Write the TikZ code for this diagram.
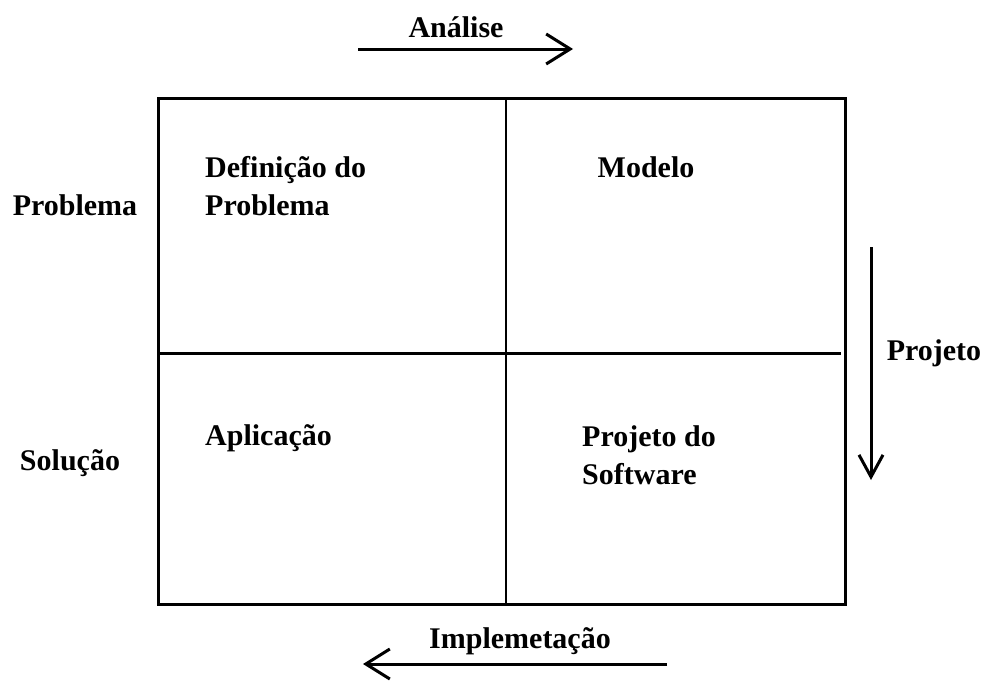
\documentclass[tikz,border=0pt]{standalone}
\usepackage{fontspec}
\setmainfont{Liberation Serif}
\usetikzlibrary{arrows.meta}
\begin{document}
\begin{tikzpicture}[x=1pt,y=-1pt,
  lbl/.style={inner sep=0pt, font=\bfseries\fontsize{30}{38}\selectfont},
  box/.style={line width=3pt},
  divv/.style={line width=2pt},
  divh/.style={line width=3pt},
  flow/.style={line width=3pt, -{Straight Barb[length=24pt,width=30pt]}}]
\useasboundingbox (0,0) rectangle (985,680);
% frame and dividers
\coordinate (tl) at (158,98);
\coordinate (br) at (845,604);
\coordinate (vt) at (506,98);
\coordinate (vb) at (506,604);
\coordinate (hl) at (158,353);
\coordinate (hr) at (841,353);
\draw[box] (tl) rectangle (br);
\draw[divv] (vt) -- (vb);
\draw[divh] (hl) -- (hr);
% labels
\node[lbl, anchor=base] (analise) at (456,37) {Análise};
\node[lbl, anchor=base] (problema) at (75,215) {Problema};
\node[lbl, anchor=base] (solucao) at (70,470) {Solução};
\node[lbl, anchor=base west] (def1) at (205,177) {Definição do};
\node[lbl, anchor=base west] (def2) at (205,215) {Problema};
\node[lbl, anchor=base] (modelo) at (646,177) {Modelo};
\node[lbl, anchor=base west] (aplic) at (205,445) {Aplicação};
\node[lbl, anchor=base west] (psw1) at (582,446) {Projeto do};
\node[lbl, anchor=base west] (psw2) at (582,484) {Software};
\node[lbl, anchor=base] (projeto) at (934,360) {Projeto};
\node[lbl, anchor=base] (implem) at (520,648) {Implemetação};
% arrows
\coordinate (a1) at (358,49);
\coordinate (a2) at (573,49);
\coordinate (p1) at (871,247);
\coordinate (p2) at (871,480);
\coordinate (i1) at (667,664);
\coordinate (i2) at (363,664);
\draw[flow] (a1) -- (a2);
\draw[flow, -{Straight Barb[length=22pt,width=24pt]}] (p1) -- (p2);
\draw[flow] (i1) -- (i2);
\end{tikzpicture}
\end{document}
